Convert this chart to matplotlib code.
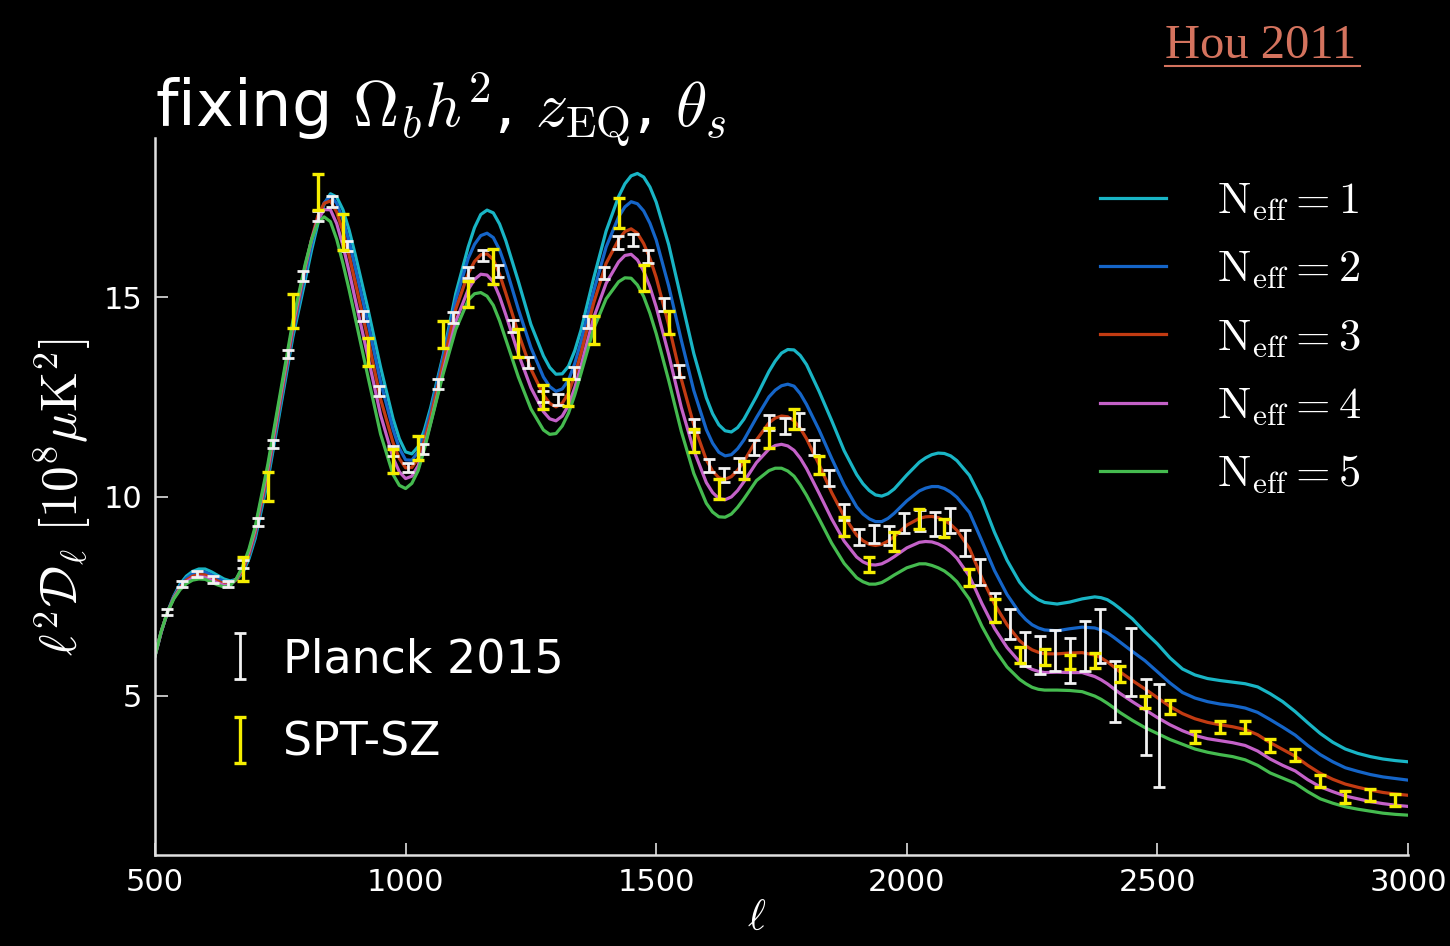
import numpy as np
import matplotlib.pyplot as plt
from matplotlib.lines import Line2D

plt.rcParams['font.family'] = 'DejaVu Sans'
plt.rcParams['mathtext.fontset'] = 'cm'

# multipoles of the model curves (regular grid + extra samples round the extrema)
ell = np.arange(500, 3001, 25)
ell_mid = [512.5, 537.5, 562.5, 587.5, 612.5, 637.5, 662.5, 687.5,
           812.5, 837.5, 862.5, 887.5, 987.5, 1012.5, 1037.5,
           1137.5, 1162.5, 1187.5, 1287.5, 1312.5, 1337.5,
           1437.5, 1462.5, 1487.5, 1612.5, 1637.5, 1662.5,
           1737.5, 1762.5, 1787.5, 1912.5, 1937.5, 1962.5,
           2037.5, 2062.5, 2087.5, 2237.5, 2262.5, 2387.5, 2412.5]

# l^2 D_l [10^8 uK^2] for N_eff = 1..5
neff1 = [6.0, 7.1, 7.8, 8.12, 8.18, 8.02, 7.88, 8.08, 8.95, 10.4,
         12.2, 14.0, 15.45, 16.85, 17.6, 17.2, 16.05, 14.7, 13.25, 11.95,
         11.12, 11.25, 12.23, 13.55, 15.09, 16.27, 17.08, 17.12, 16.42, 15.4,
         14.32, 13.53, 13.07, 13.27, 14.18, 15.47, 16.66, 17.53, 18.05, 18.02,
         17.39, 16.32, 14.96, 13.59, 12.48, 11.8, 11.62, 11.94, 12.51, 13.14,
         13.6, 13.68, 13.31, 12.64, 11.91, 11.15, 10.55, 10.15, 10.01, 10.19,
         10.54, 10.86, 11.05, 11.08, 10.9, 10.53, 9.91, 9.1, 8.4, 7.85,
         7.52, 7.34, 7.3, 7.35, 7.43, 7.48, 7.41, 7.19, 6.93, 6.6,
         6.3, 5.95, 5.67, 5.52, 5.43, 5.38, 5.34, 5.3, 5.22, 5.05,
         4.85, 4.6, 4.32, 4.05, 3.83, 3.66, 3.55, 3.47, 3.41, 3.37,
         3.34]
neff1_mid = [6.6, 7.5, 8.0, 8.18, 8.11, 7.93, 7.92, 8.44, 16.19, 17.34, 17.52, 16.68,
             11.45, 11.07, 11.67, 16.75, 17.19, 16.84, 13.24, 13.08, 13.66,
             17.85, 18.11, 17.77, 12.08, 11.65, 11.73, 13.40, 13.69, 13.54,
             10.32, 10.04, 10.07, 10.97, 11.09, 11.02, 7.66, 7.41, 7.46, 7.31]
neff2 = [6.0, 7.1, 7.76, 8.06, 8.1, 7.95, 7.84, 8.12, 9.02, 10.5,
         12.3, 14.1, 15.6, 16.95, 17.55, 16.95, 15.72, 14.35, 12.88, 11.68,
         10.92, 11.12, 12.13, 13.49, 14.93, 15.98, 16.55, 16.5, 15.75, 14.7,
         13.74, 13.0, 12.64, 12.92, 13.89, 15.14, 16.26, 17.02, 17.4, 17.17,
         16.44, 15.28, 13.93, 12.66, 11.68, 11.11, 11.05, 11.42, 11.98, 12.5,
         12.78, 12.77, 12.31, 11.67, 10.96, 10.29, 9.74, 9.44, 9.37, 9.58,
         9.89, 10.14, 10.25, 10.2, 9.98, 9.6, 8.88, 8.14, 7.54, 7.08,
         6.78, 6.65, 6.63, 6.68, 6.72, 6.7, 6.58, 6.35, 6.11, 5.88,
         5.6, 5.32, 5.08, 4.94, 4.85, 4.79, 4.75, 4.69, 4.58, 4.4,
         4.21, 4.01, 3.75, 3.52, 3.34, 3.19, 3.1, 3.02, 2.96, 2.92,
         2.88]
neff2_mid = [6.6, 7.48, 7.95, 8.11, 8.03, 7.87, 7.92, 8.5, 16.33, 17.37, 17.36, 16.38,
             11.21, 10.91, 11.55, 16.33, 16.61, 16.19, 12.76, 12.7, 13.34,
             17.27, 17.35, 16.86, 11.34, 11.02, 11.2, 12.67, 12.82, 12.58,
             9.56, 9.37, 9.45, 10.21, 10.25, 10.11, 6.91, 6.7, 6.65, 6.47]
neff3 = [6.0, 7.1, 7.72, 8.0, 8.03, 7.88, 7.8, 8.15, 9.1, 10.6,
         12.4, 14.2, 15.75, 17.05, 17.42, 16.65, 15.35, 13.95, 12.45, 11.35,
         10.72, 10.95, 12.0, 13.35, 14.7, 15.6, 16.07, 15.95, 15.1, 14.1,
         13.2, 12.55, 12.25, 12.6, 13.6, 14.85, 15.85, 16.45, 16.72, 16.35,
         15.5, 14.3, 12.95, 11.8, 10.92, 10.47, 10.5, 10.88, 11.42, 11.85,
         12.02, 11.9, 11.45, 10.8, 10.1, 9.5, 9.03, 8.8, 8.8, 9.0,
         9.28, 9.45, 9.5, 9.4, 9.15, 8.7, 7.95, 7.3, 6.78, 6.38,
         6.15, 6.05, 6.05, 6.07, 6.08, 6.02, 5.85, 5.6, 5.38, 5.17,
         4.95, 4.73, 4.55, 4.42, 4.33, 4.27, 4.22, 4.15, 4.02, 3.82,
         3.65, 3.48, 3.25, 3.05, 2.9, 2.78, 2.7, 2.63, 2.57, 2.53,
         2.5]
neff3_mid = [6.61, 7.46, 7.9, 8.04, 7.96, 7.81, 7.91, 8.55, 16.47, 17.36, 17.14, 16.04,
             10.95, 10.73, 11.41, 15.9, 16.09, 15.58, 12.34, 12.34, 13.04,
             16.65, 16.61, 15.98, 10.64, 10.43, 10.66, 11.97, 12.0, 11.71,
             8.89, 8.77, 8.88, 9.49, 9.47, 9.3, 6.25, 6.09, 5.95, 5.73]
neff4 = [6.0, 7.1, 7.69, 7.95, 7.97, 7.83, 7.78, 8.2, 9.18, 10.7,
         12.5, 14.3, 15.8, 16.95, 17.2, 16.3, 14.92, 13.5, 12.05, 10.97,
         10.45, 10.77, 11.85, 13.15, 14.39, 15.2, 15.58, 15.39, 14.56, 13.58,
         12.73, 12.13, 11.9, 12.29, 13.28, 14.48, 15.35, 15.89, 16.08, 15.66,
         14.76, 13.56, 12.24, 11.16, 10.35, 9.95, 9.99, 10.37, 10.85, 11.19,
         11.31, 11.16, 10.7, 10.08, 9.44, 8.88, 8.48, 8.29, 8.31, 8.49,
         8.71, 8.85, 8.86, 8.73, 8.45, 8.0, 7.31, 6.69, 6.21, 5.85,
         5.66, 5.58, 5.59, 5.58, 5.58, 5.48, 5.3, 5.06, 4.85, 4.65,
         4.45, 4.27, 4.12, 4.0, 3.92, 3.87, 3.82, 3.75, 3.61, 3.41,
         3.25, 3.11, 2.89, 2.71, 2.59, 2.48, 2.41, 2.34, 2.29, 2.25,
         2.22]
neff4_mid = [6.61, 7.45, 7.86, 7.99, 7.9, 7.77, 7.93, 8.62, 16.45, 17.2, 16.85, 15.64,
             10.62, 10.51, 11.25, 15.45, 15.56, 15.02, 11.95, 12.02, 12.73,
             16.05, 15.94, 15.26, 10.1, 9.92, 10.15, 11.28, 11.27, 10.96,
             8.36, 8.28, 8.39, 8.87, 8.81, 8.61, 5.74, 5.61, 5.4, 5.18]
neff5 = [6.0, 7.1, 7.66, 7.9, 7.92, 7.78, 7.76, 8.25, 9.25, 10.8,
         12.6, 14.4, 15.85, 16.88, 16.9, 15.85, 14.45, 13.0, 11.57, 10.55,
         10.2, 10.65, 11.83, 13.08, 14.19, 14.93, 15.12, 14.8, 13.94, 13.0,
         12.2, 11.67, 11.58, 12.09, 13.09, 14.2, 14.96, 15.39, 15.48, 15.02,
         14.09, 12.91, 11.64, 10.58, 9.83, 9.49, 9.56, 9.94, 10.4, 10.65,
         10.71, 10.51, 10.03, 9.44, 8.83, 8.32, 7.96, 7.8, 7.84, 8.03,
         8.21, 8.31, 8.27, 8.13, 7.86, 7.42, 6.74, 6.17, 5.72, 5.41,
         5.21, 5.14, 5.14, 5.13, 5.1, 4.99, 4.81, 4.58, 4.38, 4.2,
         4.05, 3.9, 3.78, 3.66, 3.58, 3.52, 3.47, 3.39, 3.25, 3.06,
         2.93, 2.8, 2.59, 2.41, 2.3, 2.21, 2.15, 2.1, 2.05, 2.02,
         2.0]
neff5_mid = [6.62, 7.43, 7.81, 7.93, 7.85, 7.73, 7.94, 8.68, 16.45, 17.02, 16.46, 15.18,
             10.28, 10.33, 11.19, 15.09, 15.03, 14.41, 11.56, 11.77, 12.55,
             15.49, 15.31, 14.6, 9.61, 9.48, 9.73, 10.71, 10.64, 10.29,
             7.86, 7.8, 7.93, 8.31, 8.21, 8.01, 5.3, 5.16, 4.91, 4.7]

# Planck 2015 band powers
planck_ell = [523, 554, 584, 615, 645, 676, 706, 736, 766, 796,
              826, 854, 884, 916, 946, 975, 1005, 1035, 1065, 1095,
              1125, 1155, 1185, 1215, 1245, 1275, 1305, 1335, 1364, 1396,
              1424, 1454, 1484, 1515, 1546, 1576, 1606, 1636, 1666, 1696,
              1726, 1756, 1785, 1815, 1845, 1875, 1905, 1935, 1965, 1995,
              2026, 2056, 2086, 2116, 2146, 2176, 2206, 2236, 2266, 2296,
              2326, 2355, 2386, 2416, 2447, 2477, 2503]
planck_val = [7.1, 7.81, 8.06, 7.92, 7.81, 8.31, 9.35, 11.32, 13.57, 15.53,
              17.04, 17.41, 16.29, 14.53, 12.65, 11.15, 10.73, 11.19, 12.82, 14.49,
              15.62, 16.04, 15.66, 14.28, 13.36, 12.5, 12.44, 13.11, 14.37, 15.62,
              16.37, 16.44, 16.03, 14.82, 13.15, 11.79, 10.77, 10.54, 10.79, 11.23,
              11.86, 11.77, 11.9, 11.23, 10.46, 9.62, 8.98, 9.06, 9.02, 9.34,
              9.4, 9.31, 9.39, 8.83, 8.11, 7.21, 6.8, 6.18, 6.02, 6.14,
              5.89, 6.25, 6.5, 5.11, 5.84, 4.47, 4.0]
planck_err = [0.08, 0.08, 0.08, 0.08, 0.08, 0.1, 0.1, 0.1, 0.1, 0.12,
              0.12, 0.13, 0.13, 0.13, 0.13, 0.13, 0.12, 0.12, 0.13, 0.13,
              0.13, 0.14, 0.14, 0.14, 0.14, 0.14, 0.14, 0.15, 0.15, 0.15,
              0.16, 0.16, 0.16, 0.16, 0.16, 0.16, 0.16, 0.17, 0.17, 0.18,
              0.18, 0.19, 0.2, 0.2, 0.2, 0.2, 0.21, 0.22, 0.23, 0.25,
              0.27, 0.29, 0.31, 0.32, 0.33, 0.36, 0.38, 0.43, 0.47, 0.52,
              0.56, 0.63, 0.68, 0.77, 0.86, 0.96, 1.29]

# SPT-SZ band powers
spt_ell = np.arange(675, 3000, 50)
spt_val = [8.18, 10.25, 14.66, 17.65, 16.64, 13.63, 10.9, 11.22, 14.07, 15.08,
           15.77, 13.85, 12.5, 12.61, 14.18, 17.12, 15.49, 14.36, 11.4, 10.19,
           10.67, 11.48, 11.94, 10.79, 9.25, 8.29, 8.87, 9.44, 9.21, 7.97,
           7.14, 6.02, 5.97, 5.84, 5.88, 5.54, 4.84, 4.72, 3.96, 4.21,
           4.21, 3.75, 3.5, 2.85, 2.46, 2.5, 2.38]
spt_err = [0.3, 0.36, 0.42, 0.45, 0.44, 0.36, 0.3, 0.3, 0.33, 0.33,
           0.44, 0.35, 0.31, 0.33, 0.35, 0.38, 0.33, 0.29, 0.29, 0.25,
           0.23, 0.25, 0.25, 0.23, 0.23, 0.19, 0.23, 0.25, 0.23, 0.21,
           0.29, 0.21, 0.21, 0.18, 0.19, 0.2, 0.15, 0.17, 0.15, 0.15,
           0.15, 0.16, 0.15, 0.15, 0.15, 0.15, 0.16]

curves = [(neff1, neff1_mid), (neff2, neff2_mid), (neff3, neff3_mid),
          (neff4, neff4_mid), (neff5, neff5_mid)]
colors = ['#19b5c5', '#1565c8', '#c23b12', '#c461c8', '#45bb4f']
labels = [r'$\mathrm{N_{eff}}=%d$' % n for n in range(1, 6)]

x_all = np.concatenate([ell, ell_mid])
order = np.argsort(x_all)

fig = plt.figure(figsize=(14.5, 9.46), dpi=100, facecolor='black')
ax = fig.add_axes([155/1450, 1-855/946, 1253/1450, 717/946])
ax.set_facecolor('black')

lines = []
for (y, ym), c, lab in zip(curves, colors, labels):
    y_all = np.concatenate([y, ym])
    l, = ax.plot(x_all[order], y_all[order], color=c, lw=2.3, label=lab,
                 solid_joinstyle='round')
    lines.append(l)

eb1 = ax.errorbar(planck_ell, planck_val, yerr=planck_err, fmt='none',
                  ecolor='#f2f2f2', elinewidth=2, capsize=4, capthick=2, zorder=5)
eb2 = ax.errorbar(spt_ell, spt_val, yerr=spt_err, fmt='none',
                  ecolor='#f5ee00', elinewidth=2.4, capsize=4.5, capthick=2.4, zorder=6)

ax.set_xlim(500, 3000)
ax.set_ylim(1, 19)
ax.set_xticks([500, 1000, 1500, 2000, 2500, 3000])
ax.set_yticks([5, 10, 15])

for s in ['top', 'right']:
    ax.spines[s].set_visible(False)
for s in ['left', 'bottom']:
    ax.spines[s].set_color('#e0e0e0')
    ax.spines[s].set_linewidth(1.8)
ax.tick_params(direction='in', length=9, width=1.2, color='#e0e0e0',
               labelcolor='white', labelsize=22, pad=9)

ax.set_ylabel(r'$\ell^2\mathcal{D}_\ell\ [10^8\mu{\rm K}^2]$', color='white',
              fontsize=37, labelpad=7)
ax.set_xlabel(r'$\ell$', color='white', fontsize=31)
ax.xaxis.set_label_coords(0.48, -0.058)

leg1 = ax.legend(handles=lines, loc='upper left', bbox_to_anchor=(0.754, 0.942),
                 frameon=False, fontsize=32, handlelength=1.5, handletextpad=1.13,
                 labelspacing=0.55, borderpad=0, borderaxespad=0, labelcolor='white')
ax.add_artist(leg1)
leg2 = ax.legend([eb1, eb2], ['Planck 2015', 'SPT-SZ'], loc='upper left',
                 bbox_to_anchor=(0.0495, 0.3036), frameon=False, fontsize=33,
                 handlelength=1.0, handletextpad=0.44, labelspacing=0.84,
                 borderpad=0, borderaxespad=0, labelcolor='white')

fig.text(155/1450, 1-127/946, r'fixing $\Omega_b h^2$, $z_{\rm EQ}$, $\theta_s$',
         color='white', fontsize=46, va='baseline', ha='left')

fig.text(1165/1450, 1-58/946, 'Hou 2011', color='#d4735e', fontsize=35,
         family='Liberation Serif', va='baseline', ha='left')
fig.add_artist(Line2D([1165/1450, 1360/1450], [1-66/946, 1-66/946],
                      color='#d4735e', lw=1.5, transform=fig.transFigure))

fig.savefig('out.png', dpi=100, facecolor='black')
